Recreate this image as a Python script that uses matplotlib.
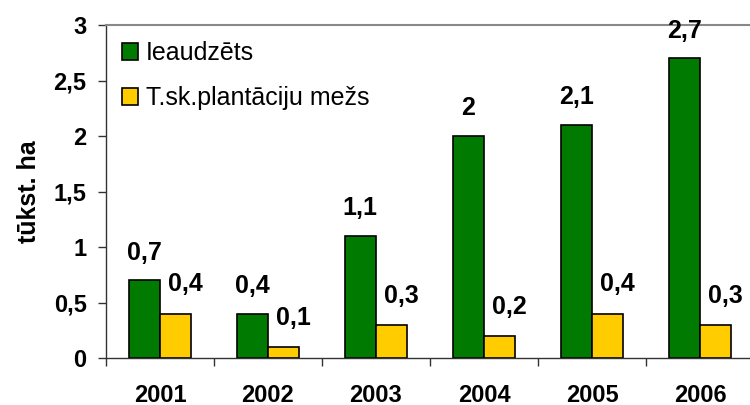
import matplotlib.pyplot as plt
import numpy as np

years = ['2001', '2002', '2003', '2004', '2005', '2006']
ieaudzets = [0.7, 0.4, 1.1, 2.0, 2.1, 2.7]
plantacijas = [0.4, 0.1, 0.3, 0.2, 0.4, 0.3]

plt.rcParams['font.family'] = ['Liberation Sans', 'DejaVu Sans']

green = '#007A00'
yellow = '#FFCC00'


def fmt(v):
    s = f'{v:.1f}'.replace('.', ',')
    return s[:-2] if s.endswith(',0') else s


fig = plt.figure(figsize=(7.5, 4.05), dpi=100)
ax = fig.add_axes([106 / 750, 1 - 358 / 405, 648 / 750, 333 / 405])

x = np.arange(len(years))
w = 0.29
ax.bar(x - w / 2, ieaudzets, w, color=green, edgecolor='black', linewidth=1.2,
       label='Ieaudzēts')
ax.bar(x + w / 2, plantacijas, w, color=yellow, edgecolor='black', linewidth=1.2,
       label='T.sk.plantāciju mežs')

for xi, v in zip(x, ieaudzets):
    ax.annotate(fmt(v), (xi - w / 2, v), textcoords='offset points', xytext=(0, 20),
                ha='center', va='center', fontsize=18, fontweight='bold')
for xi, v in zip(x, plantacijas):
    ax.annotate(fmt(v), (xi + w / 2, v), textcoords='offset points', xytext=(7, 21),
                ha='center', va='center', fontsize=18, fontweight='bold')

ax.set_xlim(-0.5, len(years) - 0.5)
ax.set_ylim(0, 3)
ax.set_yticks([0, 0.5, 1, 1.5, 2, 2.5, 3])
ax.set_yticklabels(['0', '0,5', '1', '1,5', '2', '2,5', '3'], fontsize=17, fontweight='bold')
ax.set_xticks(x)
ax.set_xticklabels(years, fontsize=17, fontweight='bold')
ax.set_xticks(np.arange(len(years) + 1) - 0.5, minor=True)
ax.tick_params(axis='x', which='major', length=0, pad=19)
ax.tick_params(axis='x', which='minor', length=6, width=1, color='#333333')
ax.tick_params(axis='y', length=6, width=1, color='#333333', pad=8)

ax.set_ylabel('tūkst. ha', fontsize=18, fontweight='bold', labelpad=9)

for s in ['left', 'bottom']:
    ax.spines[s].set_color('#333333')
    ax.spines[s].set_linewidth(1)
ax.spines['top'].set_color('#888888')
ax.spines['top'].set_linewidth(1.5)
ax.spines['right'].set_visible(False)

ax.legend(loc='upper left', bbox_to_anchor=(-0.006, 1.012), frameon=False, fontsize=18,
          handlelength=0.65, handleheight=0.65, handletextpad=0.3, labelspacing=0.85,
          borderpad=0.3)

fig.savefig('out.png', dpi=100)
